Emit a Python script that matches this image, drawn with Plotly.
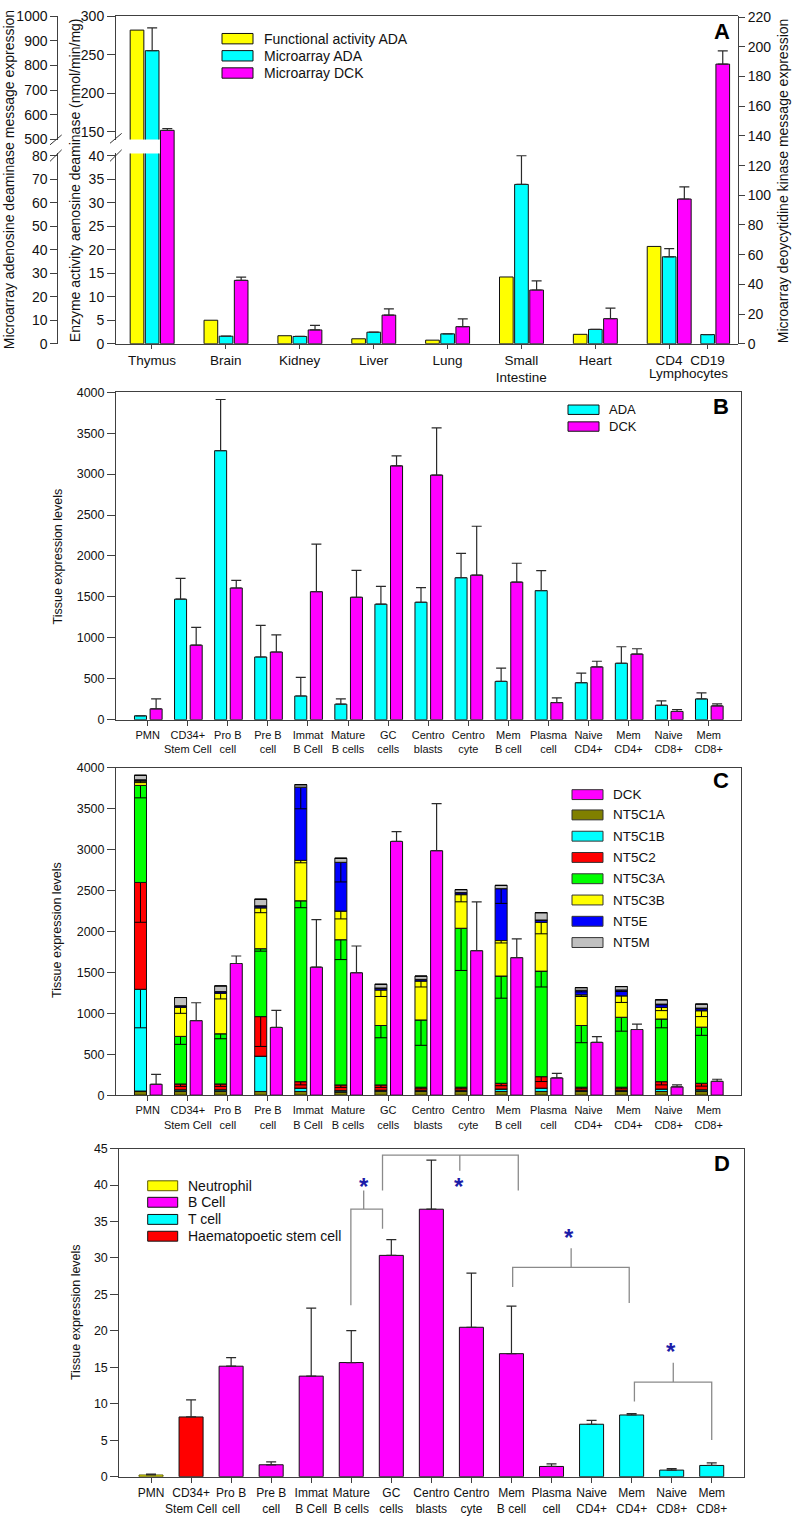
import plotly.graph_objects as go
import numpy as np

W, H = 792, 1519
FONT = "Liberation Sans, Arial, sans-serif"
AXC = "#404040"
ERRC = "#2a2a2a"
TXT = "#111111"

YELLOW, CYAN, MAGENTA = "#ffff00", "#00ffff", "#ff00ff"
RED, GREEN, BLUE, GRAY, OLIVE = "#ff0000", "#00ff00", "#0000ff", "#c0c0c0", "#808000"


def fx(p):
    return p / W


def fy(p):
    return 1 - p / H


# ---------------- data: panel A ----------------
A_tissues = ["Thymus", "Brain", "Kidney", "Liver", "Lung", "Small<br>Intestine", "Heart", "CD4", "CD19"]
A_pos = [0, 1, 2, 3, 4, 5, 6, 7, 7.52]
A_func_ada = [282, 5.0, 1.7, 1.05, 0.76, 14.2, 2.0, 20.7, None]
A_micro_ada = [860, 3.2, 3.1, 4.9, 4.2, 67.8, 6.1, 37.0, 3.9]
A_micro_ada_err = [93, None, None, None, None, 12.2, None, 3.5, None]
A_micro_dck = [143.8, 42.7, 9.3, 19.3, 11.5, 36.2, 16.9, 97.5, 188.4]
A_micro_dck_err = [1.2, 2.2, 3.1, 4.2, 5.2, 6.2, 7.1, 8.2, 8.9]

# ---------------- data: panels B-D ----------------
cells = ["PMN", "CD34+<br>Stem Cell", "Pro B<br>cell", "Pre B<br>cell", "Immat<br>B Cell",
         "Mature<br>B cells", "GC<br>cells", "Centro<br>blasts", "Centro<br>cyte", "Mem<br>B cell",
         "Plasma<br>cell", "Naive<br>CD4+", "Mem<br>CD4+", "Naive<br>CD8+", "Mem<br>CD8+"]

B_ada = [48, 1472, 3286, 766, 290, 190, 1411, 1435, 1734, 468, 1577, 452, 690, 177, 254]
B_ada_err = [None, 254, 625, 387, 226, 64, 218, 178, 298, 161, 245, 117, 201, 53, 73]
B_dck = [133, 911, 1609, 827, 1564, 1496, 3101, 2988, 1766, 1681, 210, 645, 802, 101, 169]
B_dck_err = [121, 218, 92, 209, 581, 327, 121, 576, 597, 230, 56, 69, 65, 24, 25]

C_genes = ["NT5C1A", "NT5C1B", "NT5C2", "NT5C3A", "NT5C3B", "NT5E", "NT5M"]
C_NT5C1A = [50, 45, 45, 45, 45, 40, 45, 45, 45, 45, 45, 45, 45, 45, 45]
C_NT5C1B = [1244, 20, 20, 431, 40, 15, 15, 10, 10, 30, 40, 10, 10, 30, 20]
C_NT5C2 = [1306, 72, 72, 484, 80, 70, 65, 42, 42, 70, 141, 42, 42, 90, 80]
C_NT5C3A = [1186, 581, 613, 830, 2211, 1775, 726, 822, 1943, 1311, 1290, 754, 855, 766, 686]
C_NT5C3B = [54, 355, 496, 500, 494, 350, 435, 476, 411, 434, 597, 375, 262, 142, 201]
C_NT5E = [15, 20, 20, 25, 895, 596, 24, 20, 25, 634, 28, 56, 72, 40, 32]
C_NT5M = [55, 100, 69, 80, 30, 50, 45, 40, 36, 40, 89, 32, 41, 52, 49]

C_NT5C1A_err = [None] * 15
C_NT5C1B_err = [471, None, None, None, None, None, None, None, None, None, None, None, None, None, None]
C_NT5C2_err = [487, 30, 30, 365, 40, 30, 30, 20, 20, 30, 60, 20, 20, 40, 35]
C_NT5C3A_err = [152, 97, 61, 30, 85, 243, 150, 310, 516, 271, 194, 210, 170, 108, 100]
C_NT5C3B_err = [20, 73, 70, 60, 30, 96, 80, 73, 88, 30, 141, 20, 81, 40, 72]
C_NT5E_err = [5, 5, 5, 5, 265, 240, 5, 5, 5, 180, 5, 20, 20, 10, 10]
C_NT5M_err = [None] * 15

D_vals = [0.23, 8.19, 15.15, 1.63, 13.79, 15.65, 30.35, 36.68, 20.49, 16.87, 1.40, 7.19, 8.46, 0.90, 1.54]
D_err = [0.13, 2.35, 1.18, 0.41, 9.32, 4.39, 2.17, 6.74, 7.42, 6.51, 0.36, 0.54, 0.18, 0.19, 0.36]
D_type = ["Neutrophil", "Haematopoetic stem cell", "B Cell", "B Cell", "B Cell", "B Cell", "B Cell",
          "B Cell", "B Cell", "B Cell", "B Cell", "T cell", "T cell", "T cell", "T cell"]

# significance brackets: (left x, left bottom, right x, right bottom, bar level, stem x, stem end)
D_brackets = [
    (4.99, 23.5, 5.78, 34.0, 36.7, 5.31, 39.25),
    (5.78, 39.25, 9.17, 39.25, 44.1, 7.71, 41.97),
    (9.03, 26.0, 11.94, 23.83, 28.71, 10.49, 31.34),
    (12.07, 10.31, 14.0, 5.02, 12.97, 13.04, 15.64),
]
D_stars = [(5.31, 40.6), (7.69, 40.6), (10.44, 33.6), (12.98, 18.0)]

cell_pos = list(range(len(cells)))

fig = go.Figure()

bar_line = dict(color="#111111", width=1)


def err_up(arr, w=5):
    return dict(type="data", symmetric=False, array=arr, arrayminus=[0] * len(arr),
                color=ERRC, thickness=1.2, width=w)


def err_down(arr, w=6):
    return dict(type="data", symmetric=False, array=[0] * len(arr), arrayminus=arr,
                color="#000000", thickness=1, width=w)


# ---------------- Panel A traces ----------------
WA = 0.185
for xa, ya_enz, ya_ada in [("x", "y", "y2"), ("x2", "y3", "y4")]:
    fig.add_trace(go.Bar(x=A_pos, y=A_func_ada, width=WA, offset=-0.295, marker=dict(color=YELLOW, line=bar_line),
                         xaxis=xa, yaxis=ya_enz, showlegend=False, hoverinfo="skip"))
    fig.add_trace(go.Bar(x=A_pos, y=A_micro_ada, width=WA, offset=-0.09, marker=dict(color=CYAN, line=bar_line),
                         error_y=err_up(A_micro_ada_err), xaxis=xa, yaxis=ya_ada, showlegend=False, hoverinfo="skip"))
fig.add_trace(go.Bar(x=A_pos, y=A_micro_dck, width=WA, offset=0.115, marker=dict(color=MAGENTA, line=bar_line),
                     error_y=err_up(A_micro_dck_err), xaxis="x3", yaxis="y5", showlegend=False, hoverinfo="skip"))

# ---------------- Panel B traces ----------------
fig.add_trace(go.Bar(x=cell_pos, y=B_ada, width=0.30, offset=-0.33, marker=dict(color=CYAN, line=bar_line),
                     error_y=err_up(B_ada_err), xaxis="x4", yaxis="y6", showlegend=False, hoverinfo="skip"))
fig.add_trace(go.Bar(x=cell_pos, y=B_dck, width=0.30, offset=0.06, marker=dict(color=MAGENTA, line=bar_line),
                     error_y=err_up(B_dck_err), xaxis="x4", yaxis="y6", showlegend=False, hoverinfo="skip"))

# ---------------- Panel C traces ----------------
C_series = [C_NT5C1A, C_NT5C1B, C_NT5C2, C_NT5C3A, C_NT5C3B, C_NT5E, C_NT5M]
C_errs = [C_NT5C1A_err, C_NT5C1B_err, C_NT5C2_err, C_NT5C3A_err, C_NT5C3B_err, C_NT5E_err, C_NT5M_err]
C_colors = [OLIVE, CYAN, RED, GREEN, YELLOW, BLUE, GRAY]
base = np.zeros(len(cells))
for vals, errs, col in zip(C_series, C_errs, C_colors):
    fig.add_trace(go.Bar(x=cell_pos, y=vals, base=base.copy(), width=0.30, offset=-0.33,
                         marker=dict(color=col, line=bar_line), error_y=err_down(errs),
                         xaxis="x5", yaxis="y7", showlegend=False, hoverinfo="skip"))
    base = base + np.array(vals, dtype=float)
fig.add_trace(go.Bar(x=cell_pos, y=B_dck, width=0.30, offset=0.06, marker=dict(color=MAGENTA, line=bar_line),
                     error_y=err_up(B_dck_err), xaxis="x5", yaxis="y7", showlegend=False, hoverinfo="skip"))

# ---------------- Panel D traces ----------------
D_color_map = {"Neutrophil": YELLOW, "B Cell": MAGENTA, "T cell": CYAN, "Haematopoetic stem cell": RED}
D_line_map = {"Neutrophil": "#5a5a00", "B Cell": "#111111", "T cell": "#111111", "Haematopoetic stem cell": "#111111"}
fig.add_trace(go.Bar(x=cell_pos, y=D_vals, width=0.6, offset=-0.3,
                     marker=dict(color=[D_color_map[t] for t in D_type],
                                 line=dict(color=[D_line_map[t] for t in D_type], width=1)),
                     error_y=err_up(D_err), xaxis="x6", yaxis="y8", showlegend=False, hoverinfo="skip"))

# ---------------- axes ----------------
tf = lambda s: dict(family=FONT, size=s, color=TXT)
common_axis = dict(showgrid=False, zeroline=False, showline=True, linecolor=AXC, linewidth=1,
                   ticks="outside", tickcolor=AXC, tickwidth=1)

A_xdom = [fx(116), fx(738)]
A_xrange = [-0.487, 7.934]
lay = dict(
    xaxis=dict(domain=A_xdom, range=A_xrange, anchor="y", tickvals=A_pos, ticktext=A_tissues,
               tickfont=tf(13.5), ticklen=4, tickangle=0, **common_axis),
    yaxis=dict(domain=[fy(339.3), fy(147)], range=[0, 40.48], anchor="x", tickvals=list(range(0, 41, 5)),
               tickfont=tf(14), ticklen=8, **common_axis),
    yaxis2=dict(overlaying="y", anchor="free", position=fx(57.3), side="left", range=[0, 80.97],
                tickvals=list(range(0, 81, 10)), tickfont=tf(14), ticklen=7, **common_axis),
    xaxis2=dict(domain=A_xdom, range=A_xrange, anchor="y3", side="top", showticklabels=False,
                showgrid=False, zeroline=False, showline=True, linecolor=AXC, ticks=""),
    yaxis3=dict(domain=[fy(133), fy(8.3)], range=[140.1, 300], anchor="x2", tickvals=[150, 200, 250, 300],
                tickfont=tf(14), ticklen=8, **common_axis),
    yaxis4=dict(overlaying="y3", anchor="free", position=fx(57.3), side="left", range=[498.8, 1000],
                tickvals=list(range(500, 1001, 100)), tickfont=tf(14), ticklen=7, **common_axis),
    xaxis3=dict(domain=A_xdom, range=A_xrange, anchor="y5", visible=False),
    yaxis5=dict(domain=[fy(339.3), fy(8.3)], range=[0, 220.67], anchor="x3", side="right",
                tickvals=list(range(0, 221, 20)), tickfont=tf(14), ticklen=6, **common_axis),
)

BC_xrange = [-0.791, 14.806]
lay["xaxis4"] = dict(domain=[fx(116), fx(741)], range=BC_xrange, anchor="y6", tickvals=cell_pos, ticktext=cells,
                     tickfont=tf(11), ticklen=5, tickangle=0, mirror=True, **common_axis)
lay["yaxis6"] = dict(domain=[fy(719.3), fy(388.3)], range=[0, 4000], anchor="x4",
                     tickvals=list(range(0, 4001, 500)), tickfont=tf(12.5), ticklen=8, mirror=True, **common_axis)
lay["xaxis5"] = dict(domain=[fx(116), fx(741)], range=BC_xrange, anchor="y7", tickvals=cell_pos, ticktext=cells,
                     tickfont=tf(11), ticklen=5, tickangle=0, mirror=True, **common_axis)
lay["yaxis7"] = dict(domain=[fy(1098.7), fy(768)], range=[0, 4000], anchor="x5",
                     tickvals=list(range(0, 4001, 500)), tickfont=tf(12.5), ticklen=8, mirror=True, **common_axis)
lay["xaxis6"] = dict(domain=[fx(119.3), fx(744)], range=[-0.792, 14.806], anchor="y8", tickvals=cell_pos,
                     ticktext=cells, tickfont=tf(12), ticklen=5, tickangle=0, mirror=True, **common_axis)
lay["yaxis8"] = dict(domain=[fy(1484.3), fy(1152.7)], range=[0, 45], anchor="x6",
                     tickvals=list(range(0, 46, 5)), tickfont=tf(12.5), ticklen=8, mirror=True, **common_axis)

fig.update_layout(**lay)

shapes = []
annotations = []


def ptext(x, y, text, size, angle=0, xanchor="center", yanchor="middle", bold=False, color=TXT):
    if bold:
        text = "<b>" + text + "</b>"
    annotations.append(dict(x=fx(x), y=fy(y), xref="paper", yref="paper", text=text, showarrow=False,
                            textangle=angle, xanchor=xanchor, yanchor=yanchor,
                            font=dict(family=FONT, size=size, color=color)))


def swatch(x0, x1, yc, h, color, line="#111111"):
    shapes.append(dict(type="rect", xref="paper", yref="paper", x0=fx(x0), x1=fx(x1),
                       y0=fy(yc + h / 2), y1=fy(yc - h / 2), fillcolor=color, line=dict(color=line, width=1)))


def pline(x0, y0, x1, y1, color=AXC, w=1):
    shapes.append(dict(type="line", xref="paper", yref="paper", x0=fx(x0), y0=fy(y0), x1=fx(x1), y1=fy(y1),
                       line=dict(color=color, width=w)))


# axis titles
ptext(9, 174, "Microarray adenosine deaminase message expression", 14, angle=-90)
ptext(75, 174, "Enzyme activity aenosine deaminase (nmol/min/mg)", 14, angle=-90)
ptext(783, 175, "Microarray deoycytidine kinase message expression", 14, angle=-90)
ptext(58.3, 554, "Tissue expression levels", 12.5, angle=-90)
ptext(56.7, 932, "Tissue expression levels", 12.5, angle=-90)
ptext(76, 1318, "Tissue expression levels", 12.5, angle=-90)

# Lymphocytes label
annotations.append(dict(x=7.26, y=fy(369), xref="x", yref="paper", text="Lymphocytes", showarrow=False,
                        font=dict(family=FONT, size=13.5, color=TXT), xanchor="center", yanchor="middle"))

# panel letters
ptext(721.5, 23.5, "A", 22, bold=True, color="#000")
ptext(721, 403, "B", 22, bold=True, color="#000")
ptext(721, 781, "C", 22, bold=True, color="#000")
ptext(721.5, 1168, "D", 22, bold=True, color="#000")

# axis breaks
for (xa, ya, xb, yb) in [(50, 138.3, 61.7, 128.3), (50, 155, 61.7, 143.3),
                         (110, 136.7, 121.7, 126.7), (110, 155, 121.7, 143.3)]:
    pline(xa, ya, xb, yb, color="#333333", w=1)

# legend A
for yc, col, lab in [(31, YELLOW, "Functional activity ADA"), (48.3, CYAN, "Microarray ADA"),
                     (65.7, MAGENTA, "Microarray DCK")]:
    swatch(222, 253, yc, 10.5, col)
    ptext(262, yc, lab, 14, xanchor="left")

# legend B
for yc, col, lab in [(406, CYAN, "ADA"), (423, MAGENTA, "DCK")]:
    swatch(568, 599, yc, 9.5, col)
    ptext(607, yc, lab, 13, xanchor="left")

# legend C
C_leg_rows = [795, 815.5, 837, 858.5, 880, 901.5, 923, 944.5]
for yc, col, lab in zip(C_leg_rows, [MAGENTA] + C_colors, ["DCK"] + C_genes):
    swatch(572, 603, yc, 10, col, line="#333333")
    ptext(611, yc, lab, 13.5, xanchor="left")

# legend D
for yc, (lab, col) in zip([1190.3, 1207, 1224.3, 1241.3],
                          [("Neutrophil", YELLOW), ("B Cell", MAGENTA), ("T cell", CYAN),
                           ("Haematopoetic stem cell", RED)]):
    swatch(147.7, 177.7, yc, 10, col, line=D_line_map[lab])
    ptext(186, yc, lab, 14, xanchor="left")

# significance brackets in panel D
for (xl, yl, xr, yr, yb, xs, ys) in D_brackets:
    path = f"M {xl},{yl} L {xl},{yb} L {xr},{yb} L {xr},{yr} M {xs},{yb} L {xs},{ys}"
    shapes.append(dict(type="path", xref="x6", yref="y8", path=path, line=dict(color="#8a8a8a", width=1.3)))
for (sx, sy) in D_stars:
    annotations.append(dict(x=sx, y=sy, xref="x6", yref="y8", text="<b>*</b>", showarrow=False,
                            font=dict(family=FONT, size=24, color="#1c1ca8"), yshift=-6,
                            xanchor="center", yanchor="middle"))

fig.update_layout(
    width=W, height=H, autosize=False,
    margin=dict(l=0, r=0, t=0, b=0),
    paper_bgcolor="white", plot_bgcolor="rgba(0,0,0,0)",
    barmode="overlay", showlegend=False,
    font=dict(family=FONT, color=TXT),
    shapes=shapes, annotations=annotations,
)

fig.write_html("out.html", config={"displayModeBar": False, "staticPlot": True},
               post_script="document.body.style.margin='0px';document.body.style.padding='0px';")
